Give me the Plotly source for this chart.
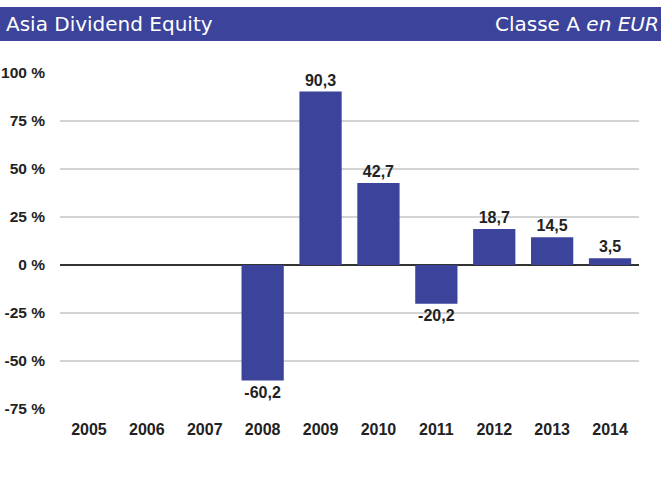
import plotly.graph_objects as go

years = ["2005", "2006", "2007", "2008", "2009", "2010", "2011", "2012", "2013", "2014"]
returns = [None, None, None, -60.2, 90.3, 42.7, -20.2, 18.7, 14.5, 3.5]
labels = ["" if v is None else f"{v:.1f}".replace(".", ",") for v in returns]
tick_vals = [-75, -50, -25, 0, 25, 50, 75, 100]
tick_text = [f"{v} %" for v in tick_vals]

W, H = 661, 480
L, R, T, B = 60, 22, 73, 71
pw, ph = W - L - R, H - T - B

def px_x(p):
    return (p - L) / pw

def px_y(p):
    return (H - B - p) / ph

bar_color = "#3b439b"
text_color = "#222222"

fig = go.Figure()
fig.add_trace(go.Bar(
    x=years, y=returns, marker=dict(color=bar_color, line=dict(width=0)),
    text=labels, textposition="outside", cliponaxis=False,
    textfont=dict(family="Liberation Sans", size=16, color=text_color, weight="bold"),
    hoverinfo="skip",
))

fig.update_layout(
    width=W, height=H,
    margin=dict(l=L, r=R, t=T, b=B, pad=0, autoexpand=False),
    paper_bgcolor="white", plot_bgcolor="white",
    bargap=0.27, showlegend=False,
    xaxis=dict(type="category", showgrid=False, showline=False, ticks="", automargin=False,
               tickfont=dict(family="Liberation Sans", size=16, color=text_color, weight="bold"),
               ticklabelstandoff=9, range=[-0.5, 9.5]),
    yaxis=dict(range=[-75, 100], tickvals=tick_vals, ticktext=tick_text, automargin=False,
               showgrid=True, gridcolor="#d4d4d4", gridwidth=2,
               zeroline=True, zerolinecolor="#333333", zerolinewidth=2,
               showline=False, ticks="", ticklabelstandoff=14,
               tickfont=dict(family="Liberation Sans", size=15.5, color=text_color, weight="bold")),
    shapes=[dict(type="rect", xref="paper", yref="paper",
                 x0=px_x(0), x1=px_x(W), y0=px_y(41), y1=px_y(7),
                 fillcolor="#3b439b", line=dict(width=0), layer="above")],
    annotations=[
        dict(xref="paper", yref="paper", x=px_x(4), y=px_y(24), xanchor="left", yanchor="middle",
             text="Asia Dividend Equity", showarrow=False,
             font=dict(family="DejaVu Sans", size=20, color="white")),
        dict(xref="paper", yref="paper", x=px_x(661), y=px_y(24), xanchor="right", yanchor="middle",
             text="Classe A <i>en EUR</i>", showarrow=False,
             font=dict(family="DejaVu Sans", size=20, color="white")),
    ],
)

fig.write_html("out.html", config={"displayModeBar": False},
               post_script="document.body.style.margin='0';document.body.style.overflow='hidden';")
